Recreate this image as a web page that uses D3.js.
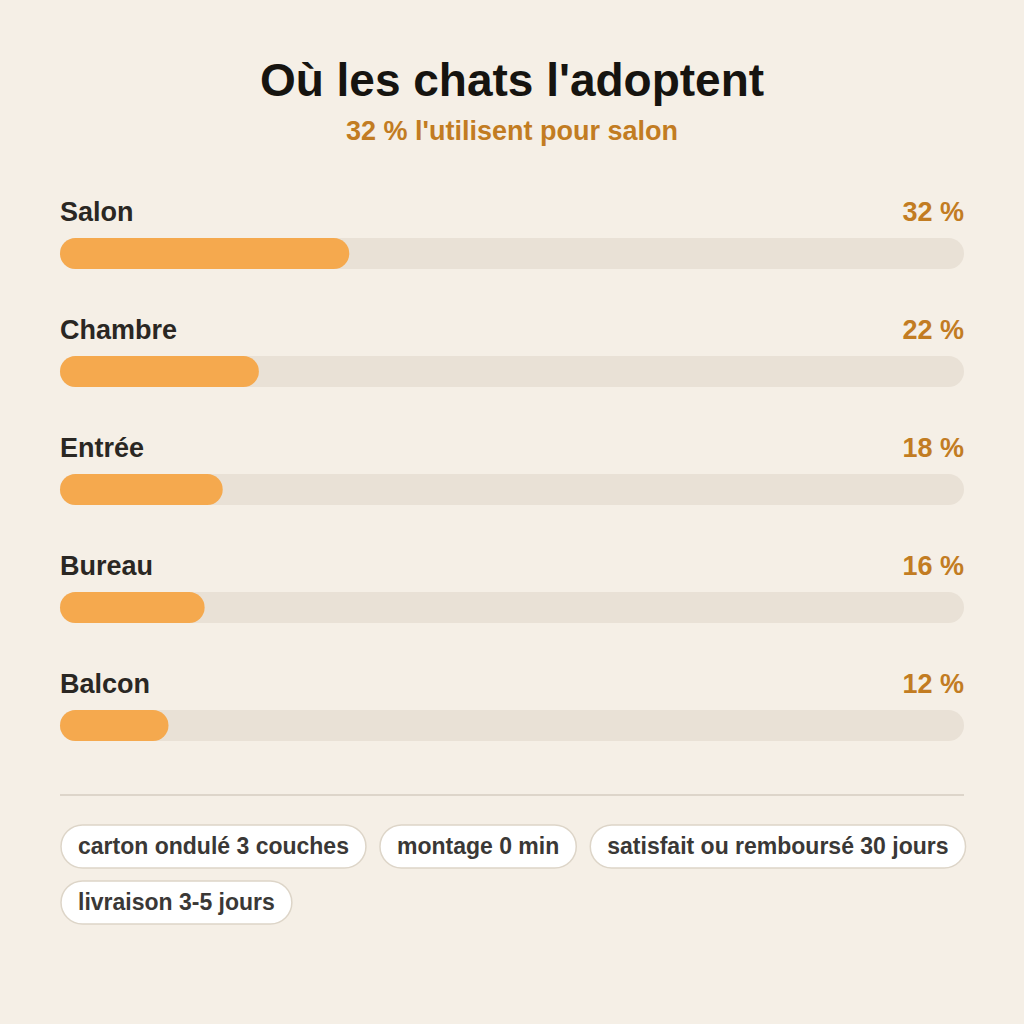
<!doctype html>
<html>
<head>
  <script src="https://d3js.org/d3.v7.min.js"></script>
  <style>
    body { margin: 0; background: #f5efe6; }
    text { font-family: 'Liberation Sans', Arial, sans-serif; font-weight: bold; }
  </style>
</head>
<body>
  <svg width="1024" height="1024"></svg>
  <script>
    var categories = ["Salon", "Chambre", "Entrée", "Bureau", "Balcon"];
    var values = [32, 22, 18, 16, 12];
    var tags = ["carton ondulé 3 couches", "montage 0 min", "satisfait ou remboursé 30 jours", "livraison 3-5 jours"];

    var svg = d3.select("svg");
    svg.append("rect").attr("width", 1024).attr("height", 1024).attr("fill", "#f5efe6");

    svg.append("text").attr("x", 512).attr("y", 96).attr("text-anchor", "middle")
      .attr("font-size", 46).attr("fill", "#161410").text("Où les chats l'adoptent");
    svg.append("text").attr("x", 512).attr("y", 140).attr("text-anchor", "middle")
      .attr("font-size", 27).attr("fill", "#c27c22").text("32 % l'utilisent pour salon");

    var x = d3.scaleLinear().domain([0, 100]).range([60, 964]);
    var y = d3.scaleBand().domain(categories).range([182, 772]);

    var row = svg.selectAll(".row").data(categories).enter().append("g")
      .attr("transform", d => "translate(0," + y(d) + ")");

    row.append("text").attr("x", 60).attr("y", 39).attr("font-size", 27).attr("fill", "#2a2723").text(d => d);
    row.append("text").attr("x", 964).attr("y", 39).attr("text-anchor", "end")
      .attr("font-size", 27).attr("fill", "#c27c22").text((d, i) => values[i] + " %");
    row.append("rect").attr("x", x(0)).attr("y", 56).attr("width", x(100) - x(0)).attr("height", 31)
      .attr("rx", 15.5).attr("fill", "#e9e1d6");
    row.append("rect").attr("x", x(0)).attr("y", 56).attr("width", (d, i) => x(values[i]) - x(0)).attr("height", 31)
      .attr("rx", 15.5).attr("fill", "#f5a94e");

    svg.append("line").attr("x1", 60).attr("x2", 964).attr("y1", 795).attr("y2", 795)
      .attr("stroke", "#ddd5ca").attr("stroke-width", 2);

    // pills, wrapped
    var px = 61, py = 825, pad = 17, gap = 14, h = 43;
    tags.forEach(function (t) {
      var g = svg.append("g");
      var txt = g.append("text").attr("font-size", 23).attr("fill", "#3a3836").text(t);
      var w = txt.node().getComputedTextLength() + pad * 2;
      if (px + w > 968) { px = 61; py += 56; }
      g.insert("rect", "text").attr("x", px).attr("y", py).attr("width", w).attr("height", h)
        .attr("rx", h / 2).attr("fill", "#fff").attr("stroke", "#ddd5c8").attr("stroke-width", 1.5);
      txt.attr("x", px + pad).attr("y", py + 29);
      px += w + gap;
    });
  </script>
</body>
</html>
